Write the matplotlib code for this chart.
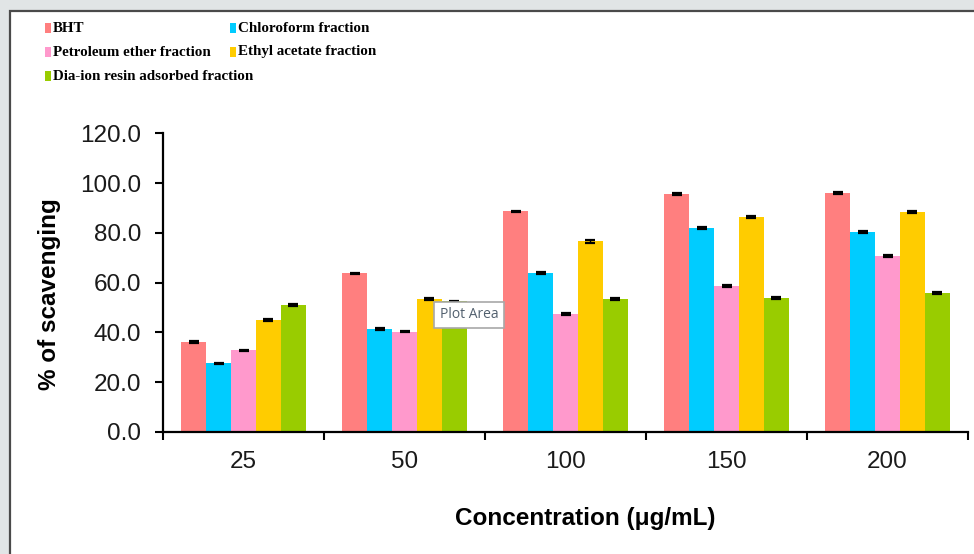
import numpy as np
import matplotlib
matplotlib.use("Agg")
import matplotlib.pyplot as plt
from matplotlib.patches import Rectangle

# DPPH scavenging activity of the fractions vs. BHT standard
concentrations = ["25", "50", "100", "150", "200"]
series_names = ["BHT", "Chloroform fraction", "Petroleum ether fraction",
                "Ethyl acetate fraction", "Dia-ion resin adsorbed fraction"]
bht = [36.0, 63.7, 88.6, 95.6, 96.1]
chloroform = [27.6, 41.2, 63.7, 82.0, 80.3]
pet_ether = [32.8, 40.3, 47.4, 58.6, 70.8]
ethyl_acetate = [45.0, 53.4, 76.6, 86.3, 88.2]
diaion = [51.0, 52.5, 53.4, 53.9, 55.8]
err_bht = [0.4, 0.3, 0.3, 0.3, 0.3]
err_chloroform = [0.3, 0.4, 0.4, 0.3, 0.4]
err_pet_ether = [0.3, 0.3, 0.4, 0.3, 0.4]
err_ethyl_acetate = [0.5, 0.4, 0.7, 0.5, 0.4]
err_diaion = [0.3, 0.3, 0.3, 0.3, 0.3]

values = [bht, chloroform, pet_ether, ethyl_acetate, diaion]
errors = [err_bht, err_chloroform, err_pet_ether, err_ethyl_acetate, err_diaion]
colors = ["#ff7f7f", "#00ccff", "#ff99cc", "#ffcc00", "#99cc00"]

W, H = 974, 554
fig = plt.figure(figsize=(W / 100, H / 100), dpi=100, facecolor="#e1e5e6")

# white chart panel with dark frame
fig.add_artist(Rectangle((10 / W, -0.05), 1.0, (H - 11) / H + 0.05,
                         transform=fig.transFigure, facecolor="white",
                         edgecolor="#4a4a4a", linewidth=1.6, zorder=0))

ax = fig.add_axes([163 / W, 1 - 432 / H, (968 - 163) / W, (432 - 133.3) / H])
ax.set_facecolor("none")

x = np.arange(len(concentrations))
bw = 0.155
for i, (vals, errs, col) in enumerate(zip(values, errors, colors)):
    pos = x + (i - 2) * bw
    ax.bar(pos, vals, width=bw, color=col, edgecolor="none", zorder=2)
    ax.errorbar(pos, vals, yerr=errs, fmt="none", ecolor="black",
                elinewidth=1.0, capsize=3.6, capthick=1.6, zorder=3)

ax.set_xlim(-0.5, len(concentrations) - 0.5)
ax.set_ylim(0, 120)
ax.set_yticks(np.arange(0, 121, 20))
ax.set_yticklabels([f"{v:.1f}" for v in np.arange(0, 121, 20)])

# category boundaries as major ticks, labels on minor ticks
ax.set_xticks(np.arange(-0.5, len(concentrations), 1.0))
ax.set_xticklabels([])
ax.set_xticks(x, minor=True)
ax.set_xticklabels(concentrations, minor=True)
ax.tick_params(axis="x", which="major", direction="out", length=6, width=1.5)
ax.tick_params(axis="x", which="minor", length=0, pad=14)
ax.tick_params(axis="y", direction="out", length=5.5, width=1.5, pad=10)

for lab in ax.get_xticklabels(minor=True) + ax.get_yticklabels():
    lab.set_fontfamily("Liberation Sans")
    lab.set_fontsize(17.5)
    lab.set_color("#1a1a1a")

for s in ["top", "right"]:
    ax.spines[s].set_visible(False)
for s in ["left", "bottom"]:
    ax.spines[s].set_linewidth(1.6)
    ax.spines[s].set_color("black")

fig.text(50 / W, 1 - 294 / H, "% of scavenging", rotation=90, ha="center",
         va="center", fontfamily="Liberation Sans", fontweight="bold",
         fontsize=17.5)
fig.text(585 / W, 1 - 518 / H, "Concentration (\u03bcg/mL)", ha="center",
         va="center", fontfamily="Liberation Sans", fontweight="bold",
         fontsize=17.5)

# legend, two columns across the top
col_x = [45, 230]
row_y = [28, 52, 76]
for i, (name, col) in enumerate(zip(series_names, colors)):
    cx = col_x[i % 2]
    cy = row_y[i // 2]
    fig.add_artist(Rectangle((cx / W, 1 - (cy + 5) / H), 6 / W, 10 / H,
                             transform=fig.transFigure, facecolor=col,
                             edgecolor="none"))
    fig.text((cx + 8) / W, 1 - cy / H, name, ha="left", va="center",
             fontfamily="Liberation Serif", fontweight="bold", fontsize=10.8)

# hover tip left over from the spreadsheet
fig.text(469 / W, 1 - 315 / H, "Plot Area", ha="center", va="center",
         fontfamily="Open Sans", fontsize=10, color="#52606e", zorder=10,
         bbox=dict(boxstyle="square,pad=0.4", facecolor="white",
                   edgecolor="#a8a8a8", linewidth=1.2))

fig.savefig("out.png", dpi=100, facecolor=fig.get_facecolor())
